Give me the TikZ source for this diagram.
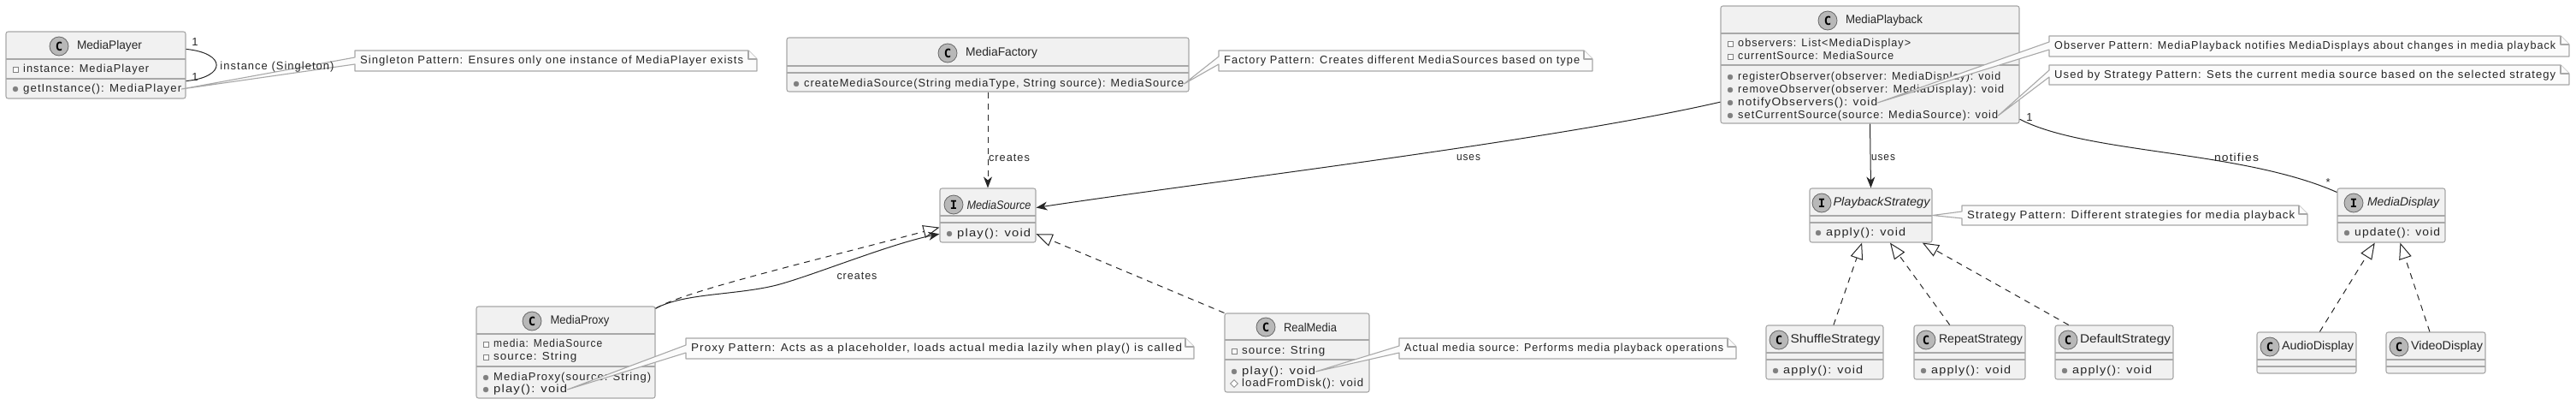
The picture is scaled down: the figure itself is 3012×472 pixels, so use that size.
\documentclass[tikz,border=0pt]{standalone}
\usepackage{graphicx}
\usepackage{fontspec}
\setmainfont{Liberation Sans}
\newfontfamily\memberfont[LetterSpace=8]{Liberation Sans}
\newfontfamily\spotfont{DejaVu Sans Mono}
\usetikzlibrary{arrows.meta,shapes.geometric}
\definecolor{boxfill}{HTML}{F1F1F1}
\definecolor{boxline}{HTML}{A8A8A8}
\definecolor{notefill}{HTML}{FBFBFB}
\definecolor{spotfill}{HTML}{B8B8B8}
\definecolor{inkline}{HTML}{262626}
\tikzset{
  classbox/.style={draw=boxline, fill=boxfill, line width=1.1pt, rounded corners=2.5pt, inner sep=0pt},
  divider/.style={draw=boxline, line width=1.1pt},
  spot/.style={circle, draw=inkline!70, fill=spotfill, line width=.8pt, minimum size=22pt, inner sep=0pt, font=\fontsize{14}{16}\spotfont\bfseries, text=black},
  titletext/.style={inner sep=0pt, text=inkline, font=\fontsize{14}{16}\selectfont},
  membertext/.style={anchor=west, inner sep=0pt, text height=10pt, text depth=3pt, text=inkline, font=\fontsize{13}{15}\memberfont},
  labeltext/.style={inner sep=0pt, text=inkline, font=\fontsize{13}{15}\memberfont},
  privmark/.style={rectangle, draw=gray, fill=white, line width=.9pt, minimum size=6pt, inner sep=0pt},
  pubmark/.style={circle, draw=gray, fill=gray, minimum size=6pt, inner sep=0pt},
  protmark/.style={diamond, draw=gray, fill=white, line width=.7pt, minimum size=9pt, inner sep=0pt},
  notebox/.style={draw=boxline, fill=notefill, line width=1.1pt, line join=round},
  assoc/.style={draw=inkline, line width=1pt},
  depend/.style={draw=inkline, line width=1pt, dash pattern=on 7pt off 6pt},
  realize/.style={depend, -{Triangle[open, length=19pt, width=15pt, fill=white]}},
}
% stretch a text to the width it has in the drawing
\newcommand{\fitted}[2]{\resizebox{#1pt}{\height}{#2}}
% #1 name, #2..#5 corners, #6 #7 divider heights
\newcommand{\umlclass}[7]{
  \node[classbox, minimum width=#4pt-#2pt, minimum height=#5pt-#3pt] (#1) at ({(#2+#4)/2},{(#3+#5)/2}) {};
  \draw[divider] (#2,#6)--(#4,#6) (#2,#7)--(#4,#7);
}
% #1 name, #2 letter, #3 spot x, #4 y, #5 title x, #6 title
\newcommand{\umlhead}[6]{
  \node[spot] (#1spot) at (#3,#4) {#2};
  \node[titletext] (#1title) at (#5,#4) {#6};
}
% #1 name, #2 mark style, #3 mark x, #4 y, #5 text
\newcommand{\umlmember}[5]{
  \node[#2] (#1mark) at (#3,#4) {};
  \node[membertext] (#1) at (#3+9,#4) {#5};
}
% #1 name, #2..#5 corners, #6 tip, #7 #8 tail on the left side, #9 text
\newcommand{\umlnote}[9]{
  \draw[notebox] (#2,#3)--(#4-10,#3)--(#4,#3+10)--(#4,#5)--(#2,#5)--(#2,#8)--(#6)--(#2,#7)--cycle;
  \draw[notebox] (#4-10,#3)--(#4-10,#3+10)--(#4,#3+10);
  \node[membertext] (#1) at (#2+6,{(#3+#5)/2}) {#9};
}
\begin{document}
\begin{tikzpicture}[x=1pt, y=-1pt, >={Stealth[length=13pt, width=10pt, inset=4pt]}]
\useasboundingbox (0,0) rectangle (3012,472);
% classes
\umlclass{player}{7}{37}{217}{115}{69}{92}
\umlhead{player}{C}{69}{54}{128}{\fitted{76}{MediaPlayer}}
\umlmember{playerinst}{privmark}{18}{81}{\fitted{147}{instance: MediaPlayer}}
\umlmember{playerget}{pubmark}{18}{104}{\fitted{185}{getInstance(): MediaPlayer}}

\umlclass{factory}{920}{44}{1390}{107}{77}{85}
\umlhead{factory}{C}{1108}{62}{1171}{\fitted{84}{MediaFactory}}
\umlmember{factorymake}{pubmark}{931}{98}{\fitted{444}{createMediaSource(String mediaType, String source): MediaSource}}

\umlclass{playback}{2012}{7}{2361}{144}{39}{76}
\umlhead{playback}{C}{2137}{24}{2203}{\fitted{90}{MediaPlayback}}
\umlmember{playbackobs}{privmark}{2023}{51}{\fitted{202}{observers: List<MediaDisplay>}}
\umlmember{playbackcur}{privmark}{2023}{66}{\fitted{182}{currentSource: MediaSource}}
\umlmember{playbackreg}{pubmark}{2023}{90}{\fitted{307}{registerObserver(observer: MediaDisplay): void}}
\umlmember{playbackrem}{pubmark}{2023}{105}{\fitted{311}{removeObserver(observer: MediaDisplay): void}}
\umlmember{playbacknot}{pubmark}{2023}{120}{\fitted{163}{notifyObservers(): void}}
\umlmember{playbackset}{pubmark}{2023}{135}{\fitted{304}{setCurrentSource(source: MediaSource): void}}

\umlclass{source}{1099}{220}{1211}{283}{252}{260}
\umlhead{source}{I}{1115}{239}{1168}{\fitted{75}{\itshape MediaSource}}
\umlmember{sourceplay}{pubmark}{1110}{273}{\fitted{86}{play(): void}}

\umlclass{proxy}{557}{358}{766}{465}{390}{428}
\umlhead{proxy}{C}{622}{375}{678}{\fitted{69}{MediaProxy}}
\umlmember{proxymedia}{privmark}{568}{402}{\fitted{127}{media: MediaSource}}
\umlmember{proxysrc}{privmark}{568}{417}{\fitted{97}{source: String}}
\umlmember{proxymake}{pubmark}{568}{441}{\fitted{184}{MediaProxy(source: String)}}
\umlmember{proxyplay}{pubmark}{568}{455}{\fitted{86}{play(): void}}

\umlclass{real}{1432}{366}{1601}{458}{397}{420}
\umlhead{real}{C}{1480}{382}{1532}{\fitted{62}{RealMedia}}
\umlmember{realsrc}{privmark}{1443}{410}{\fitted{97}{source: String}}
\umlmember{realplay}{pubmark}{1443}{434}{\fitted{86}{play(): void}}
\umlmember{realload}{protmark}{1443}{448}{\fitted{142}{loadFromDisk(): void}}

\umlclass{strategy}{2116}{220}{2259}{283}{252}{260}
\umlhead{strategy}{I}{2130}{237}{2200}{\fitted{113}{\itshape PlaybackStrategy}}
\umlmember{strategyapply}{pubmark}{2126}{272}{\fitted{93}{apply(): void}}

\umlclass{shuffle}{2065}{380}{2202}{443}{412}{420}
\umlhead{shuffle}{C}{2080}{397}{2146}{\fitted{105}{ShuffleStrategy}}
\umlmember{shuffleapply}{pubmark}{2076}{433}{\fitted{93}{apply(): void}}

\umlclass{repeat}{2238}{380}{2368}{443}{412}{420}
\umlhead{repeat}{C}{2252}{397}{2316}{\fitted{98}{RepeatStrategy}}
\umlmember{repeatapply}{pubmark}{2249}{433}{\fitted{93}{apply(): void}}

\umlclass{default}{2403}{380}{2541}{443}{412}{420}
\umlhead{default}{C}{2418}{397}{2485}{\fitted{106}{DefaultStrategy}}
\umlmember{defaultapply}{pubmark}{2414}{433}{\fitted{93}{apply(): void}}

\umlclass{display}{2733}{220}{2859}{283}{252}{260}
\umlhead{display}{I}{2752}{237}{2810}{\fitted{84}{\itshape MediaDisplay}}
\umlmember{displayupdate}{pubmark}{2744}{272}{\fitted{100}{update(): void}}

\umlclass{audio}{2639}{388}{2755}{436}{420}{428}
\umlhead{audio}{C}{2654}{405}{2710}{\fitted{84}{AudioDisplay}}

\umlclass{video}{2790}{388}{2906}{436}{420}{428}
\umlhead{video}{C}{2805}{405}{2861}{\fitted{84}{VideoDisplay}}

% relations
\draw[assoc] (player.10) .. controls (265,62) and (265,90) .. (player.-10);
\draw[depend,->] (factory)--(source);
\draw[assoc,->] (playback.194) .. controls (1812,165) and (1412,212) .. (source.9);
\draw[assoc,->] (playback.south)--(strategy.north);
\draw[assoc] (playback.-20) .. controls (2440,180) and (2620,175) .. (display.157);

\draw[realize] (proxy.26) .. controls (800,340) and (950,305) .. (source.194);
\draw[assoc,->] (proxy.26) .. controls (800,342) and (860,345) .. (908,333) .. controls (950,322) and (1040,285) .. (source.201);
\draw[realize] (real.north west)--(source.-21);

\draw[realize] (shuffle.72)--(strategy.252);
\draw[realize] (repeat.126)--(strategy.305);
\draw[realize] (default.149)--(strategy.332);
\draw[realize] (audio.58)--(display.239);
\draw[realize] (video.106)--(display.288);

% notes
\umlnote{playernote}{415}{59}{885}{83}{playerget.east}{67}{75}{\fitted{448}{Singleton Pattern: Ensures only one instance of MediaPlayer exists}}
\umlnote{factorynote}{1425}{59}{1862}{83}{factorymake.east}{66}{75}{\fitted{416}{Factory Pattern: Creates different MediaSources based on type}}
\umlnote{observernote}{2396}{42}{3004}{66}{playbacknot.east}{49}{58}{\fitted{586}{Observer Pattern: MediaPlayback notifies MediaDisplays about changes in media playback}}
\umlnote{sourcenote}{2396}{76}{3004}{99}{playbackset.east}{82}{90}{\fitted{586}{Used by Strategy Pattern: Sets the current media source based on the selected strategy}}
\umlnote{proxynote}{802}{395}{1396}{419}{proxyplay.east}{403}{412}{\fitted{574}{Proxy Pattern: Acts as a placeholder, loads actual media lazily when play() is called}}
\umlnote{realnote}{1636}{395}{2030}{419}{realplay.east}{404}{412}{\fitted{373}{Actual media source: Performs media playback operations}}
\umlnote{strategynote}{2294}{240}{2698}{263}{strategy.east}{247}{255}{\fitted{383}{Strategy Pattern: Different strategies for media playback}}

% labels
\node[labeltext] (loopa) at (228,49) {1};
\node[labeltext] (loopb) at (228,90) {1};
\node[labeltext] (looplabel) at (324,78) {\fitted{133}{instance (Singleton)}};
\node[labeltext] (factorylabel) at (1180,184) {\fitted{48}{creates}};
\node[labeltext] (useslabel) at (1717,184) {\fitted{28}{uses}};
\node[labeltext] (strategylabel) at (2202,184) {\fitted{28}{uses}};
\node[labeltext] (playbackone) at (2373,137) {1};
\node[labeltext] (displaymany) at (2722,213) {*};
\node[labeltext] (notifylabel) at (2615,184) {\fitted{52}{notifies}};
\node[labeltext] (proxylabel) at (1002,322) {\fitted{47}{creates}};
\end{tikzpicture}
\end{document}
